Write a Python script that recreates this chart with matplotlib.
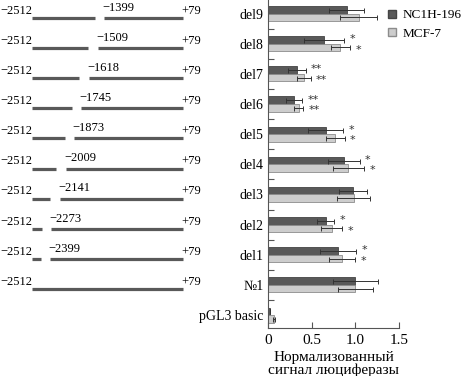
import numpy as np
import matplotlib.pyplot as plt
from matplotlib.lines import Line2D

# bar data, top to bottom
groups = ['del9', 'del8', 'del7', 'del6', 'del5', 'del4', 'del3', 'del2', 'del1', '№1', 'pGL3 basic']
nc_vals = [0.90, 0.64, 0.33, 0.30, 0.66, 0.87, 0.97, 0.66, 0.80, 1.00, 0.02]
nc_err = [0.20, 0.23, 0.10, 0.09, 0.20, 0.18, 0.16, 0.10, 0.21, 0.26, 0.0]
mcf_vals = [1.04, 0.83, 0.41, 0.35, 0.77, 0.92, 0.98, 0.73, 0.85, 1.00, 0.07]
mcf_err = [0.21, 0.11, 0.08, 0.05, 0.11, 0.18, 0.19, 0.12, 0.15, 0.20, 0.01]
nc_stars = ['', '*', '**', '**', '*', '*', '', '*', '*', '', '']
mcf_stars = ['', '*', '**', '**', '*', '*', '', '*', '*', '', '']

# deletion constructs (schematic), top to bottom
sites = ['−1399', '−1509', '−1618', '−1745', '−1873', '−2009', '−2141', '−2273', '−2399', None]
# gap edges as fraction of construct length, read from the schematic
gap_left = [0.417, 0.371, 0.311, 0.265, 0.219, 0.159, 0.119, 0.066, 0.060, None]
gap_right = [0.477, 0.437, 0.377, 0.325, 0.278, 0.225, 0.185, 0.126, 0.119, None]

dark = '#595959'
light = '#cdcdcd'
serif = ['Liberation Serif', 'DejaVu Serif']
plt.rcParams['font.family'] = serif

fig = plt.figure(figsize=(4.63, 3.76), dpi=100)
ax = fig.add_axes([268 / 463, 48 / 376, 131 / 463, 328 / 376])
axd = fig.add_axes([0, 48 / 376, 265 / 463, 328 / 376], sharey=ax)

n = len(groups)
ypos = np.arange(n)[::-1]
h = 0.25
ax.barh(ypos + h / 2, nc_vals, height=h, color=dark, edgecolor='#444444', linewidth=0.6,
        xerr=nc_err, error_kw=dict(ecolor='#333333', elinewidth=0.7, capsize=1.8, capthick=0.7))
ax.barh(ypos - h / 2, mcf_vals, height=h, color=light, edgecolor='#8c8c8c', linewidth=0.6,
        xerr=mcf_err, error_kw=dict(ecolor='#333333', elinewidth=0.7, capsize=1.8, capthick=0.7))

for y, v, e, s in zip(ypos, nc_vals, nc_err, nc_stars):
    if s:
        ax.text(v + e + 0.06, y + h / 2 + 0.02, s, ha='left', va='center', fontsize=8,
                family='DejaVu Sans', color='#333333')
for y, v, e, s in zip(ypos, mcf_vals, mcf_err, mcf_stars):
    if s:
        ax.text(v + e + 0.06, y - h / 2 - 0.08, s, ha='left', va='center', fontsize=8,
                family='DejaVu Sans', color='#333333')

ax.set_xlim(0, 1.5)
ax.set_ylim(-0.43, 10.45)
ax.set_xticks([0, 0.5, 1.0, 1.5])
ax.set_xticklabels(['0', '0.5', '1.0', '1.5'])
ax.tick_params(axis='x', direction='in', length=4, width=0.8, labelsize=11, pad=4, color='#555555')
ax.set_yticks(ypos)
ax.set_yticklabels(groups)
ax.tick_params(axis='y', which='major', length=0, labelsize=10, pad=3)
ax.set_yticks(np.arange(n - 1) + 0.5, minor=True)
ax.tick_params(axis='y', which='minor', direction='in', length=4, width=0.8, color='#555555')
for sp in ['top', 'right']:
    ax.spines[sp].set_visible(False)
for sp in ['left', 'bottom']:
    ax.spines[sp].set_color('#555555')
    ax.spines[sp].set_linewidth(0.8)
ax.set_xlabel('Нормализованный\nсигнал люциферазы', fontsize=11, labelpad=3, linespacing=1.0)

handles = [Line2D([0], [0], marker='s', ls='none', markersize=6, markerfacecolor=dark,
                  markeredgecolor='#444444', label='NC1H-196'),
           Line2D([0], [0], marker='s', ls='none', markersize=6, markerfacecolor=light,
                  markeredgecolor='#8c8c8c', label='MCF-7')]
fig.legend(handles=handles, loc='upper left', bbox_to_anchor=(377 / 463, 1.0), frameon=False,
           fontsize=9.5, handlelength=0.8, handletextpad=0.45, labelspacing=0.45, borderpad=0.2)

# schematic of constructs
axd.set_xlim(0, 265)
axd.axis('off')
x0, x1 = 32, 183
L = x1 - x0
for i, y in enumerate(ypos[:len(sites)]):
    ly = y - 0.14
    ty = y + 0.1
    axd.text(0, ty, '−2512', ha='left', va='center', fontsize=9)
    axd.text(x1 - 2, ty, '+79', ha='left', va='center', fontsize=9)
    if sites[i] is None:
        axd.plot([x0, x1], [ly, ly], color=dark, lw=2.3, solid_capstyle='butt')
        continue
    gl = x0 + gap_left[i] * L
    gr = x0 + gap_right[i] * L
    axd.plot([x0, gl], [ly, ly], color=dark, lw=2.3, solid_capstyle='butt')
    axd.plot([gr, x1], [ly, ly], color=dark, lw=2.3, solid_capstyle='butt')
    axd.text(gr - 2, ty + 0.1, sites[i], ha='left', va='center', fontsize=9)

fig.savefig('out.png', dpi=100)
